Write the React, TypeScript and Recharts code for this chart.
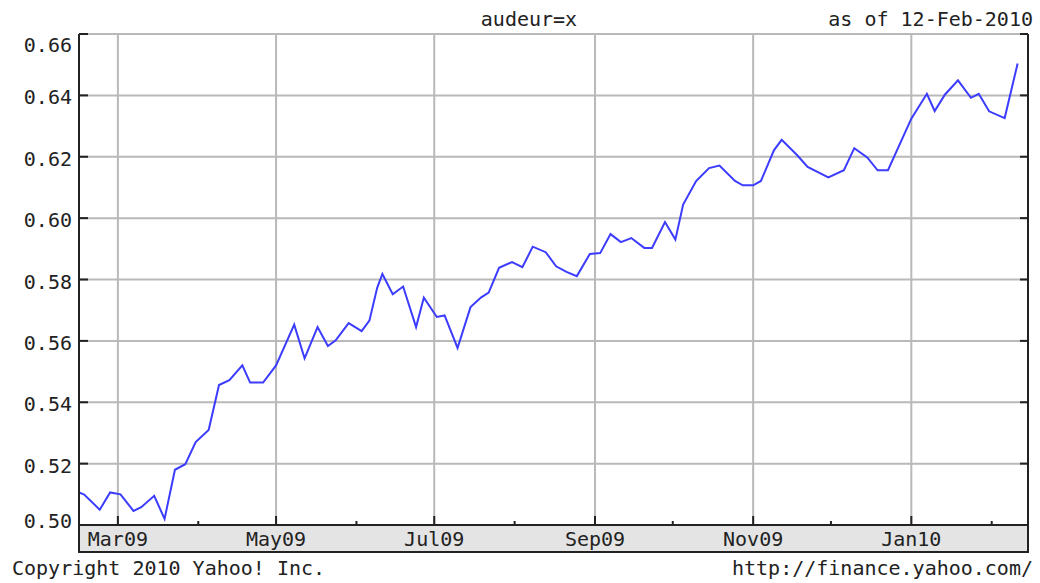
import { LineChart, Line, XAxis, YAxis, CartesianGrid, ReferenceLine } from 'recharts';

// AUD/EUR weekly-ish closes
const dates = [
    '2009-02-14', '2009-02-16', '2009-02-22', '2009-02-26', '2009-03-02', '2009-03-07',
    '2009-03-10', '2009-03-15', '2009-03-19', '2009-03-23', '2009-03-27', '2009-03-31',
    '2009-04-05', '2009-04-09', '2009-04-13', '2009-04-18', '2009-04-21', '2009-04-26',
    '2009-05-01', '2009-05-08', '2009-05-12', '2009-05-17', '2009-05-21', '2009-05-24',
    '2009-05-29', '2009-06-03', '2009-06-06', '2009-06-09', '2009-06-11', '2009-06-15',
    '2009-06-19', '2009-06-24', '2009-06-27', '2009-07-02', '2009-07-05', '2009-07-10',
    '2009-07-13', '2009-07-15', '2009-07-19', '2009-07-22', '2009-07-26', '2009-07-31',
    '2009-08-04', '2009-08-08', '2009-08-13', '2009-08-17', '2009-08-21', '2009-08-25',
    '2009-08-30', '2009-09-03', '2009-09-07', '2009-09-11', '2009-09-15', '2009-09-20',
    '2009-09-23', '2009-09-28', '2009-10-02', '2009-10-05', '2009-10-10', '2009-10-15',
    '2009-10-19', '2009-10-25', '2009-10-28', '2009-11-01', '2009-11-04', '2009-11-09',
    '2009-11-12', '2009-11-18', '2009-11-22', '2009-11-30', '2009-12-06', '2009-12-10',
    '2009-12-15', '2009-12-19', '2009-12-23', '2010-01-01', '2010-01-07', '2010-01-10',
    '2010-01-14', '2010-01-19', '2010-01-24', '2010-01-27', '2010-01-31', '2010-02-06',
    '2010-02-11',
];

const rates = [
    0.5106, 0.5099, 0.5050, 0.5106, 0.5100, 0.5046,
    0.5058, 0.5095, 0.5020, 0.5180, 0.5198, 0.5270,
    0.5310, 0.5456, 0.5472, 0.5520, 0.5464, 0.5464,
    0.5520, 0.5653, 0.5543, 0.5645, 0.5583, 0.5602,
    0.5658, 0.5632, 0.5666, 0.5773, 0.5818, 0.5752,
    0.5777, 0.5645, 0.5741, 0.5678, 0.5683, 0.5577,
    0.5657, 0.5710, 0.5741, 0.5757, 0.5838, 0.5857,
    0.5840, 0.5907, 0.5889, 0.5843, 0.5825, 0.5811,
    0.5883, 0.5886, 0.5948, 0.5922, 0.5935, 0.5903,
    0.5903, 0.5987, 0.5930, 0.6044, 0.6121, 0.6163,
    0.6171, 0.6121, 0.6107, 0.6107, 0.6121, 0.6221,
    0.6255, 0.6205, 0.6167, 0.6133, 0.6156, 0.6228,
    0.6198, 0.6156, 0.6156, 0.6324, 0.6405, 0.6349,
    0.6403, 0.6449, 0.6392, 0.6405, 0.6348, 0.6326,
    0.6504,
];

const monthTicks = [
    '2009-03-01', '2009-04-01', '2009-05-01', '2009-06-01', '2009-07-01', '2009-08-01',
    '2009-09-01', '2009-10-01', '2009-11-01', '2009-12-01', '2010-01-01', '2010-02-01',
];
const labeledMonths = ['2009-03-01', '2009-05-01', '2009-07-01', '2009-09-01', '2009-11-01', '2010-01-01'];
const rateTicks = [0.5, 0.52, 0.54, 0.56, 0.58, 0.6, 0.62, 0.64, 0.66];
const monthNames = ['Jan', 'Feb', 'Mar', 'Apr', 'May', 'Jun', 'Jul', 'Aug', 'Sep', 'Oct', 'Nov', 'Dec'];

const xDomain = [Date.parse('2009-02-14'), Date.parse('2010-02-15')];
const data = dates.map((d, i) => ({ t: Date.parse(d), v: rates[i] }));

const INK = '#222';
const GRID = '#b9b9b9';
const FONT = '"DejaVu Sans Mono", monospace';

const isMajor = (ts: number) => new Date(ts).getUTCMonth() % 2 === 0;
const monthLabel = (ts: number) => {
    const d = new Date(ts);
    return monthNames[d.getUTCMonth()] + String(d.getUTCFullYear()).slice(2);
};

const BottomTick = ({ x, y, payload }: any) => {
    const major = isMajor(payload.value);
    return (
        <g>
            <line x1={x} y1={y} x2={x} y2={y - (major ? 9 : 4)} stroke={INK} strokeWidth={2} />
            {major && (
                <text x={x} y={y + 21} textAnchor="middle" fontFamily={FONT} fontSize={20} fill={INK}>
                    {monthLabel(payload.value)}
                </text>
            )}
        </g>
    );
};

const TopTick = ({ x, y, payload }: any) => (
    <line x1={x} y1={y} x2={x} y2={y + (isMajor(payload.value) ? 9 : 4)} stroke={INK} strokeWidth={2} />
);

const LeftTick = ({ x, y, payload }: any) => {
    const v = payload.value;
    const shift = v >= 0.659 ? 11 : v <= 0.501 ? -4 : 2;
    return (
        <g>
            <line x1={x} y1={y} x2={x + 9} y2={y} stroke={INK} strokeWidth={2} />
            <text x={x - 7} y={y + shift + 7} textAnchor="end" fontFamily={FONT} fontSize={20} fill={INK}>
                {v.toFixed(2)}
            </text>
        </g>
    );
};

const RightTick = ({ x, y }: any) => (
    <line x1={x} y1={y} x2={x - 8} y2={y} stroke={INK} strokeWidth={2} />
);

const App = () => (
    <div style={{ position: 'absolute', left: 0, top: 0, width: 1040, height: 583, background: '#fff' }}>
        <svg width={1040} height={583} style={{ position: 'absolute', left: 0, top: 0 }}>
            <rect x={79} y={525} width={949} height={27} fill="#e4e4e4" stroke={INK} strokeWidth={2} />
            <g fontFamily={FONT} fontSize={20} fill={INK}>
                <text x={529} y={26} textAnchor="middle">audeur=x</text>
                <text x={1033} y={26} textAnchor="end">as of 12-Feb-2010</text>
                <text x={12} y={575}>Copyright 2010 Yahoo! Inc.</text>
                <text x={1033} y={575} textAnchor="end">http://finance.yahoo.com/</text>
            </g>
        </svg>
        <div style={{ position: 'absolute', left: 0, top: 0 }}>
            <LineChart width={1040} height={583} data={data} margin={{ top: 34, right: 0, bottom: 31, left: 0 }}>
                <CartesianGrid vertical={false} stroke={GRID} strokeWidth={2} />
                {labeledMonths.map((m) => (
                    <ReferenceLine key={m} x={Date.parse(m)} stroke={GRID} strokeWidth={2} />
                ))}
                <XAxis
                    dataKey="t"
                    type="number"
                    domain={xDomain}
                    ticks={monthTicks.map((m) => Date.parse(m))}
                    height={27}
                    tickLine={false}
                    tickSize={0}
                    tickMargin={0}
                    axisLine={{ stroke: INK, strokeWidth: 2 }}
                    tick={<BottomTick />}
                    interval={0}
                    allowDataOverflow
                />
                <XAxis
                    xAxisId="t"
                    orientation="top"
                    dataKey="t"
                    type="number"
                    domain={xDomain}
                    ticks={monthTicks.map((m) => Date.parse(m))}
                    height={0}
                    tickLine={false}
                    tickSize={0}
                    tickMargin={0}
                    axisLine={{ stroke: INK, strokeWidth: 2 }}
                    tick={<TopTick />}
                    interval={0}
                    allowDataOverflow
                />
                <YAxis
                    type="number"
                    domain={[0.5, 0.66]}
                    ticks={rateTicks}
                    width={79}
                    tickLine={false}
                    tickSize={0}
                    tickMargin={0}
                    axisLine={{ stroke: INK, strokeWidth: 2 }}
                    tick={<LeftTick />}
                    interval={0}
                    allowDataOverflow
                />
                <YAxis
                    yAxisId="r"
                    orientation="right"
                    type="number"
                    domain={[0.5, 0.66]}
                    ticks={rateTicks}
                    width={12}
                    tickLine={false}
                    tickSize={0}
                    tickMargin={0}
                    axisLine={{ stroke: INK, strokeWidth: 2 }}
                    tick={<RightTick />}
                    interval={0}
                    allowDataOverflow
                />
                <Line
                    type="linear"
                    dataKey="v"
                    stroke="#3c3cff"
                    strokeWidth={2}
                    dot={false}
                    isAnimationActive={false}
                />
            </LineChart>
        </div>
    </div>
);

export default App;
